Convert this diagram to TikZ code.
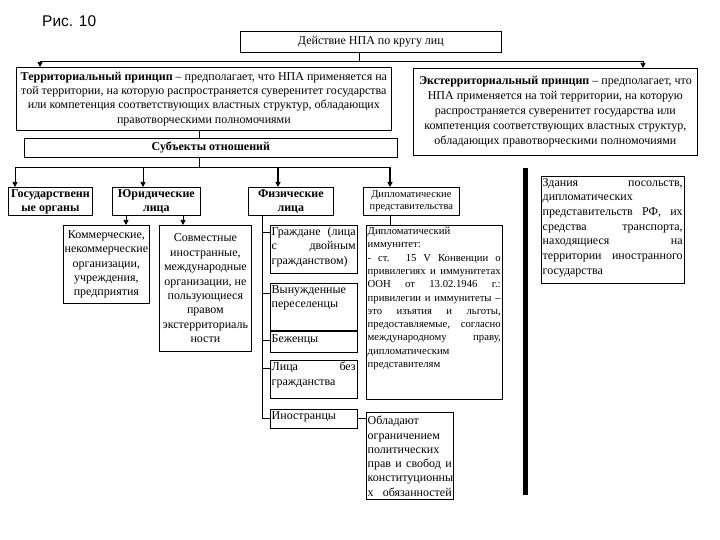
\documentclass[tikz,border=0pt]{standalone}
\usepackage{fontspec}
\setmainfont{Liberation Serif}
\newfontfamily\arialf{Liberation Sans}
\usetikzlibrary{arrows.meta}
\newcommand{\J}[2]{\makebox[#1][s]{#2}}
\begin{document}
\begin{tikzpicture}[x=1pt,y=-1pt,
  frame/.style={draw, line width=0.75pt, inner xsep=1pt, inner ysep=0pt, anchor=north west, align=center},
  ln/.style={line width=0.75pt},
  arr/.style={line width=0.75pt, -{Triangle[length=5pt,width=5pt]}},
  arrb/.style={line width=1.4pt, -{Triangle[length=5pt,width=5pt]}},
  tx/.style={anchor=north west, inner sep=0pt, align=left},
  f12/.style={font=\fontsize{12}{14.4}\selectfont},
  b12/.style={font=\fontsize{12}{14}\selectfont\bfseries},
]
\fill[white] (0,0) rectangle (720,540);
\useasboundingbox (0,0) rectangle (720,540);

\node[anchor=base west, inner sep=0pt, font=\arialf\fontsize{15.5}{16}\selectfont] (fig) at (42,27) {Рис. 10};

% top level
\node[frame, f12, minimum width=261pt, minimum height=21pt] (top) at (240,31) {Действие НПА по кругу лиц};
\node[frame, f12, minimum width=375pt, minimum height=63pt] (terr) at (16,67) {\textbf{Территориальный принцип} – предполагает, что НПА применяется на\\той территории, на которую распространяется суверенитет государства\\или компетенция соответствующих властных структур, обладающих\\правотворческими полномочиями};
\node[frame, font=\fontsize{12}{15}\selectfont, minimum width=284pt, minimum height=87pt] (ext) at (413,68) {\textbf{Экстерриториальный принцип} – предполагает, что\\НПА применяется на той территории, на которую\\распространяется суверенитет государства или\\компетенция соответствующих властных структур,\\обладающих правотворческими полномочиями};
\node[frame, f12, minimum width=373pt, minimum height=19pt] (subj) at (24,138) {\textbf{Субъекты отношений}};

% second level
\node[frame, b12, minimum width=84pt, minimum height=28pt] (gos) at (8,187) {Государственн\\ые органы};
\node[frame, b12, minimum width=88pt, minimum height=28pt] (jur) at (112,187) {Юридические\\лица};
\node[frame, b12, minimum width=85pt, minimum height=28pt] (fiz) at (248,187) {Физические\\лица};
\node[frame, font=\fontsize{10.5}{12}\selectfont, minimum width=96pt, minimum height=28pt] (dipl) at (363,187) {Дипломатические\\представительства};

% legal persons
\node[frame, f12, minimum width=86pt, minimum height=78pt] (komm) at (63,225) {Коммерческие,\\некоммерческие\\организации,\\учреждения,\\предприятия};
\node[frame, f12, minimum width=92pt, minimum height=126pt] (sovm) at (159,225) {Совместные\\иностранные,\\международные\\организации, не\\пользующиеся\\правом\\экстерриториаль\\ности};

% natural persons
\node[frame, minimum width=87pt, minimum height=48pt] (grazh) at (270,225) {};
\node[frame, minimum width=87pt, minimum height=47pt] (vyn) at (270,283) {};
\node[frame, minimum width=87pt, minimum height=21pt] (bezh) at (270,331) {};
\node[frame, minimum width=87pt, minimum height=38pt] (lica) at (270,360) {};
\node[frame, minimum width=87pt, minimum height=19pt] (inos) at (270,409) {};
\node[tx, f12] (grazh-t) at (271.5,227) {\J{84pt}{Граждане (лица}\\\J{84pt}{с двойным}\\гражданством)};
\node[tx, f12] (vyn-t) at (271.5,285) {Вынужденные\\переселенцы};
\node[tx, f12] (bezh-t) at (271.5,334) {Беженцы};
\node[tx, f12] (lica-t) at (271.5,362) {\J{84pt}{Лица без}\\гражданства};
\node[tx, f12] (inos-t) at (271.5,411) {Иностранцы};

% diplomatic
\node[frame, minimum width=136pt, minimum height=174pt] (imm) at (366,225) {};
\node[tx, font=\fontsize{10.7}{13.3}\selectfont] (imm-t) at (367.5,227) {Дипломатический\\иммунитет:\\\J{133pt}{- ст. 15 V Конвенции о}\\\J{133pt}{привилегиях и иммунитетах}\\\J{133pt}{ООН от 13.02.1946 г.:}\\\J{133pt}{привилегии и иммунитеты –}\\\J{133pt}{это изъятия и льготы,}\\\J{133pt}{предоставляемые, согласно}\\\J{133pt}{международному праву,}\\дипломатическим\\представителям};
\node[frame, minimum width=87pt, minimum height=87pt] (obl) at (366,412) {};
\node[tx, font=\fontsize{12}{14.3}\selectfont] (obl-t) at (367.5,416) {Обладают\\ограничением\\политических\\\J{84pt}{прав и свобод и}\\конституционны\\\J{84pt}{х обязанностей}};

% bar and buildings
\node[fill=black, draw=none, inner sep=0pt, minimum width=5pt, minimum height=327pt, anchor=north west] (bar) at (523,168) {};
\node[frame, minimum width=143pt, minimum height=107pt] (zdan) at (541,176) {};
\node[tx, font=\fontsize{12}{14.7}\selectfont] (zdan-t) at (542.5,178) {\J{140pt}{Здания посольств,}\\дипломатических\\\J{140pt}{представительств РФ, их}\\\J{140pt}{средства транспорта,}\\\J{140pt}{находящиеся на}\\\J{140pt}{территории иностранного}\\государства};

% connectors
\coordinate (c1) at (359,61);
\coordinate (cL) at (40,61);
\coordinate (cR) at (643,61);
\draw[ln] (top.south -| c1) -- (c1);
\draw[ln] (cL) -- (cR);
\draw[arr] (cL) -- (cL |- terr.north);
\draw[arr] (cR) -- (cR |- ext.north);

\coordinate (c2) at (199,167);
\draw[ln] (terr.south -| c2) -- (subj.north -| c2);
\draw[ln] (subj.south -| c2) -- (c2);
\coordinate (g1) at (15,167);
\coordinate (g2) at (143,167);
\coordinate (g3) at (278,167);
\coordinate (g4) at (390,167);
\draw[ln] (g1) -- (g4);
\draw[arr] (g1) -- (g1 |- gos.north);
\draw[arr] (g2) -- (g2 |- jur.north);
\draw[arrb] (g3) -- (g3 |- fiz.north);
\draw[arrb] (g4) -- (g4 |- dipl.north);

\coordinate (j1) at (126,0);
\coordinate (j2) at (183,0);
\draw[arr] (jur.south -| j1) -- (komm.north -| j1);
\draw[arr] (jur.south -| j2) -- (sovm.north -| j2);

\coordinate (f0) at (262,418);
\coordinate (f1) at (262,232);
\coordinate (f2) at (262,293);
\coordinate (f3) at (262,340);
\coordinate (f4) at (262,368);
\draw[ln] (fiz.south -| f0) -- (f0);
\draw[ln] (f1) -- (f1 -| grazh.west);
\draw[ln] (f2) -- (f2 -| vyn.west);
\draw[ln] (f3) -- (f3 -| bezh.west);
\draw[ln] (f4) -- (f4 -| lica.west);
\draw[ln] (f0) -- (f0 -| inos.west);

\draw[ln] (dipl.south -| g4) -- (imm.north -| g4);
\draw[ln] (f0 -| inos.east) -- (f0 -| obl.west);
\end{tikzpicture}
\end{document}
